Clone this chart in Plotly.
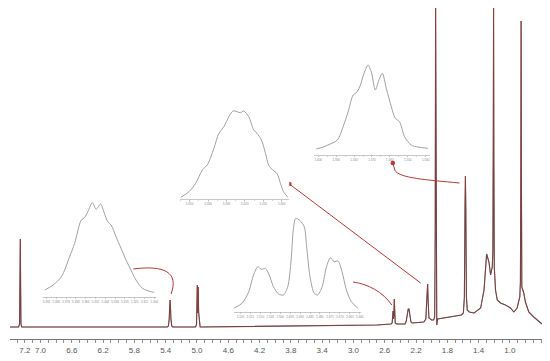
import plotly.graph_objects as go

# ---------------- main spectrum (ppm, intensity) ----------------
spectrum_points = [
    (7.39, 0), (7.28, 0), (7.268, 3), (7.262, 40), (7.258, 88), (7.254, 40), (7.25, 3), (7.24, 0),
    (5.38, 0), (5.365, 1), (5.355, 8), (5.348, 22), (5.344, 27), (5.340, 22), (5.333, 8), (5.323, 1), (5.31, 0),
    (5.02, 0), (5.006, 2), (5.000, 16), (4.996, 42), (4.990, 14), (4.984, 40), (4.979, 15), (4.970, 2), (4.96, 0),
    (2.70, 2), (2.52, 3), (2.505, 4), (2.498, 10), (2.494, 16), (2.489, 8), (2.483, 12), (2.478, 28),
    (2.473, 10), (2.466, 4), (2.45, 3),
    (2.34, 3), (2.325, 6), (2.310, 14), (2.300, 18), (2.290, 18), (2.280, 12), (2.265, 5), (2.25, 4),
    (2.10, 5), (2.075, 8), (2.062, 24), (2.052, 43), (2.044, 24), (2.035, 9), (2.00, 7),
    (1.975, 7), (1.962, 10), (1.955, 90), (1.950, 319), (1.945, 90), (1.940, 6), (1.935, 2), (1.925, 8),
    (1.85, 9), (1.75, 10), (1.65, 12),
    (1.62, 12), (1.595, 14), (1.582, 30), (1.574, 120), (1.569, 151), (1.564, 120), (1.556, 30),
    (1.545, 17), (1.52, 15), (1.458, 14), (1.374, 19), (1.331, 37), (1.298, 73), (1.268, 65),
    (1.247, 52), (1.226, 60), (1.218, 75), (1.213, 180), (1.209, 319), (1.205, 160), (1.200, 60),
    (1.184, 37), (1.162, 27), (1.120, 24), (1.057, 22), (0.993, 19), (0.950, 15), (0.908, 19),
    (0.874, 30), (0.866, 45), (0.861, 150), (0.857, 306), (0.853, 150), (0.848, 40), (0.823, 34),
    (0.802, 25), (0.759, 15), (0.696, 10), (0.61, 4), (0.59, 3),
]
spec_ppm = [p for p, _ in spectrum_points]
spec_int = [v for _, v in spectrum_points]

main_tick_vals = [round(7.3 - 0.1 * i, 1) for i in range(68)]
main_tick_labels = ["7.2", "7.0", "6.6", "6.2", "5.8", "5.4", "5.0", "4.6", "4.2",
                    "3.8", "3.4", "3.0", "2.6", "2.2", "1.8", "1.4", "1.0"]

# ---------------- insets (expanded multiplets) ----------------
inset1_ppm = [5.3934, 5.3866, 5.3798, 5.3731, 5.3690, 5.3636, 5.3609, 5.3582, 5.3546, 5.3514, 5.3479,
              5.3447, 5.3420, 5.3392, 5.3352, 5.3311, 5.3270, 5.3230, 5.3189, 5.3136, 5.3067, 5.3041]
inset1_int = [6.7, 11.7, 20, 40, 53.4, 76.7, 79, 85, 94, 87.4, 92.7,
              83.4, 75, 71.7, 60, 48.4, 36.7, 26.7, 16.7, 8.4, 5, 4.4]
inset1_ticks = [round(5.392 - 0.008 * i, 3) for i in range(12)]

inset2_ppm = [5.0548, 5.0503, 5.0467, 5.0431, 5.0404, 5.0368, 5.0341, 5.0314, 5.0287, 5.0265,
              5.0242, 5.0224, 5.0206, 5.0179, 5.0152, 5.0134, 5.0110, 5.0088, 5.0071, 5.0049,
              5.0026, 5.0007, 4.9990, 4.9966]
inset2_int = [2, 7.6, 16, 29.3, 34.3, 51, 66, 72.6, 82.6, 88.3, 87.6, 86.6, 88.3, 82.6,
              69.3, 66, 59.3, 46, 34.3, 29.3, 26, 16, 7.6, 2]
inset2_ticks = [5.050, 5.040, 5.030, 5.020, 5.010, 5.000]

inset3_ppm = [2.5234, 2.5192, 2.5158, 2.5134, 2.5112, 2.5095, 2.5075, 2.5055, 2.5034, 2.5008, 2.4984,
              2.4962, 2.4945, 2.4934, 2.4922, 2.4900, 2.4879, 2.4867, 2.4850, 2.4829, 2.4812, 2.4789,
              2.4767, 2.4747, 2.4729, 2.4709, 2.4689, 2.4667, 2.4642, 2.4609]
inset3_int = [3.4, 8.4, 20, 36.7, 45, 42.4, 43.4, 36.7, 25, 17.7, 16.7, 25, 51.7, 81.7, 93.4, 91,
              85, 65, 35, 18.4, 16.7, 25, 45, 54, 50, 50.7, 40, 21.7, 10, 3.4]
inset3_ticks = [round(2.520 - 0.005 * i, 3) for i in range(13)]

inset4_ppm = [1.6011, 1.5972, 1.5933, 1.5893, 1.5861, 1.5833, 1.5805, 1.5787, 1.5768, 1.5744, 1.5722,
              1.5704, 1.5681, 1.5661, 1.5642, 1.5620, 1.5592, 1.5570, 1.5546, 1.5518, 1.5481, 1.5444,
              1.5388]
inset4_int = [6, 8, 11, 15, 28.3, 43.3, 60, 62.3, 68.3, 81.7, 90, 83.3, 65, 75, 81.7,
              66.7, 48.3, 36.7, 33.3, 18.3, 10, 8, 6.7]
inset4_ticks = [1.600, 1.590, 1.580, 1.570, 1.560, 1.550, 1.540]

# ---------------- layout helpers (pixel frame -> paper) ----------------
W, H = 550, 361
ML, MR, MT, MB = 10, 5, 5, 22
PW, PH = W - ML - MR, H - MT - MB


def xdom(a, b):
    return [(a - ML) / PW, (b - ML) / PW]


def ydom(bottom, top):
    return [(H - MB - bottom) / PH, (H - MB - top) / PH]


fig = go.Figure()

fig.add_trace(go.Scatter(x=spec_ppm, y=spec_int, mode="lines",
                         line=dict(color="#4a4a4a", width=1.1), hoverinfo="skip", showlegend=False))
fig.add_trace(go.Scatter(x=spec_ppm, y=spec_int, mode="lines",
                         line=dict(color="#a83838", width=0.7), opacity=0.75,
                         hoverinfo="skip", showlegend=False))

insets = [
    (inset1_ppm, inset1_int, inset1_ticks, [5.395, 5.3024], xdom(43, 157), ydom(296.7, 196.7)),
    (inset2_ppm, inset2_int, inset2_ticks, [5.0552, 4.9958], xdom(181, 291), ydom(199.3, 99.3)),
    (inset3_ppm, inset3_int, inset3_ticks, [2.52335, 2.45935], xdom(235, 363), ydom(311.7, 211.7)),
    (inset4_ppm, inset4_int, inset4_ticks, [1.6022, 1.5378], xdom(316, 432), ydom(155, 55)),
]

layout_axes = {}
for i, (xs, ys, ticks, xr, xd, yd) in enumerate(insets, start=2):
    fig.add_trace(go.Scatter(x=xs, y=ys, mode="lines",
                             line=dict(color="#a0a0a0", width=1, shape="spline", smoothing=0.8),
                             xaxis=f"x{i}", yaxis=f"y{i}", hoverinfo="skip", showlegend=False))
    step = abs(ticks[1] - ticks[0])
    layout_axes[f"xaxis{i}"] = dict(
        domain=xd, anchor=f"y{i}", range=xr, showline=True, linecolor="#b0b0b0", linewidth=0.7,
        ticks="outside", ticklen=1.5, tickwidth=0.6, tickcolor="#b0b0b0",
        tickmode="array", tickvals=ticks, ticktext=[f"{t:.3f}" for t in ticks], tickangle=0,
        tickfont=dict(size=3, color="#8a8a8a", family="Liberation Sans"),
        minor=dict(ticks="outside", ticklen=1, tickcolor="#b8b8b8", tickmode="linear",
                   tick0=ticks[0], dtick=step / 2),
        showgrid=False, zeroline=False, fixedrange=True)
    layout_axes[f"yaxis{i}"] = dict(domain=yd, anchor=f"x{i}", range=[0, 100], visible=False)

# ---------------- arrows from peaks to insets (main-axis data coords) ----------------
arrow_color = "#b23a35"
arrow_paths = [
    "M 5.331,33 C 5.229,55 5.420,62 5.814,58",
    "M 2.141,44 L 3.819,143",
    "M 2.509,22 C 2.624,35 2.814,43 3.005,45",
    "M 1.645,144 C 2.052,147 2.433,149 2.471,157 L 2.497,164",
]
arrow_heads_ppm = [5.814, 3.819, 3.005, 2.497]
arrow_heads_int = [58, 143, 45, 164]

shapes = [dict(type="path", path=p, xref="x", yref="y", line=dict(color=arrow_color, width=1))
          for p in arrow_paths]
fig.add_trace(go.Scatter(x=arrow_heads_ppm, y=arrow_heads_int, mode="markers",
                         marker=dict(color=arrow_color, size=4.5, symbol="circle"),
                         hoverinfo="skip", showlegend=False))

fig.update_layout(
    width=W, height=H, margin=dict(l=ML, r=MR, t=MT, b=MB),
    paper_bgcolor="white", plot_bgcolor="white", showlegend=False,
    xaxis=dict(domain=[0, 1], range=[7.39, 0.59], showline=True, linecolor="#777777", linewidth=1,
               ticks="outside", ticklen=3, tickwidth=0.8, tickcolor="#777777",
               tickmode="array", tickvals=main_tick_vals,
               ticktext=[(f"{v:.1f}" if f"{v:.1f}" in main_tick_labels else "") for v in main_tick_vals],
               tickfont=dict(size=8, color="#555555", family="Liberation Sans"),
               showgrid=False, zeroline=False),
    yaxis=dict(range=[-12, 322], visible=False),
    shapes=shapes,
    **layout_axes,
)

fig.write_html("out.html", config={"displayModeBar": False, "staticPlot": True},
               post_script="document.body.style.margin='0px';document.body.style.overflow='hidden';")
